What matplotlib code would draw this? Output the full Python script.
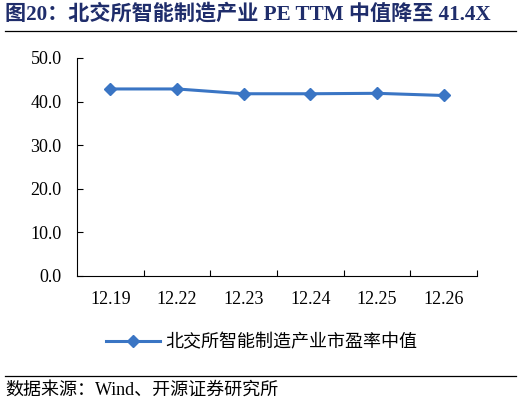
import numpy as np
import matplotlib
matplotlib.use('Agg')
import matplotlib.pyplot as plt
from matplotlib.lines import Line2D

plt.rcParams['font.family'] = ['Liberation Serif', 'Noto Sans CJK SC']

dates = ['12.19', '12.22', '12.23', '12.24', '12.25', '12.26']
pe_median = [42.9, 42.9, 41.8, 41.8, 41.9, 41.4]
series_name = '北交所智能制造产业市盈率中值'
title = '图20：北交所智能制造产业 PE TTM 中值降至 41.4X'
source = '数据来源：Wind、开源证券研究所'

line_color = '#3A75C4'
title_color = '#1F2D6B'

fig = plt.figure(figsize=(5.22, 4.05), dpi=100)
W, H = 522, 405
ax = fig.add_axes([77 / W, 1 - 276 / H, 400 / W, 218 / H])

x = np.arange(len(dates))
ax.plot(x, pe_median, color=line_color, linewidth=2.2, marker='D', markersize=6,
        label=series_name)

ax.set_xlim(-0.5, len(dates) - 0.5)
ax.set_ylim(0, 50)
ax.set_yticks(np.arange(0, 51, 10))
ax.set_yticklabels([f'{v:.1f}' for v in np.arange(0, 51, 10)], fontsize=13)
ax.tick_params(axis='y', direction='in', length=4, width=0.8, pad=11)

ax.set_xticks(x)
ax.set_xticklabels(dates, fontsize=13)
ax.tick_params(axis='x', length=0, pad=11)
ax.set_xticks(np.arange(0.5, len(dates), 1), minor=True)
ax.tick_params(axis='x', which='minor', direction='in', length=4, width=0.8)

for s in ['top', 'right']:
    ax.spines[s].set_visible(False)
for s in ['left', 'bottom']:
    ax.spines[s].set_color('black')
    ax.spines[s].set_linewidth(0.8)

ax.legend(loc='center', bbox_to_anchor=(262 / W, 1 - 342 / H),
          bbox_transform=fig.transFigure, frameon=False,
          handlelength=3.0, handletextpad=0.3,
          prop={'family': ['Noto Sans CJK SC'], 'size': 13})

fig.text(5 / W, 1 - 14 / H, title, fontsize=15.2, fontweight='bold',
         color=title_color, va='center', ha='left')
fig.add_artist(Line2D([5 / W, 516 / W], [1 - 31 / H, 1 - 31 / H],
                      color='black', linewidth=0.9))
fig.add_artist(Line2D([5 / W, 516 / W], [1 - 376 / H, 1 - 376 / H],
                      color='black', linewidth=0.9))
fig.text(5 / W, 1 - 390 / H, source, fontsize=13, va='center', ha='left')

plt.savefig('out.png', dpi=100)
